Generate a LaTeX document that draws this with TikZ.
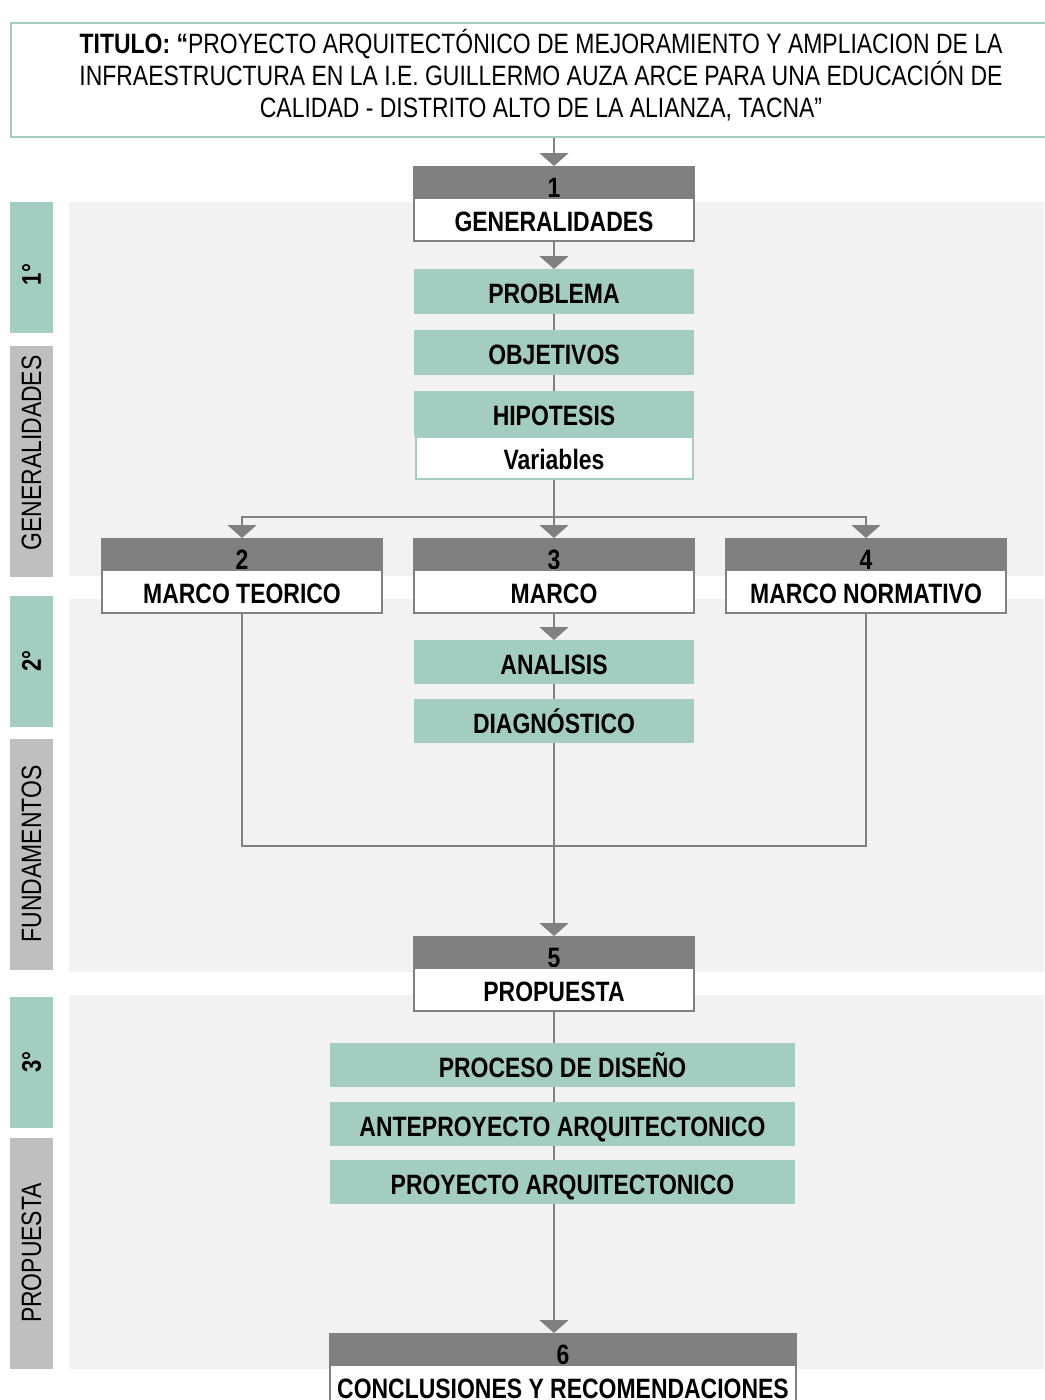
\documentclass[tikz,border=0pt]{standalone}
\usepackage{fontspec}
\setmainfont{Liberation Sans}[FakeStretch=0.82]
\usetikzlibrary{arrows.meta}
\definecolor{mintgreen}{RGB}{164,205,193}
\definecolor{hdgray}{RGB}{128,128,128}
\definecolor{sidegray}{RGB}{191,191,191}
\definecolor{panelgray}{RGB}{242,242,242}

\begin{document}
\begin{tikzpicture}[x=1pt,y=-1pt,line cap=butt,line join=miter,
  ln/.style={hdgray,line width=2pt},
  arr/.style={ln,-{Triangle[width=29pt,length=13pt]}},
  hdr/.style={fill=hdgray,draw=hdgray,line width=2pt,inner sep=0pt,minimum width=280,minimum height=31,anchor=north,text height=29pt,text depth=0pt,font=\bfseries\fontsize{28}{30}\selectfont},
  bodybox/.style={fill=white,draw=hdgray,line width=2pt,inner sep=0pt,minimum width=280,minimum height=43,anchor=north,text height=23pt,text depth=0pt,font=\bfseries\fontsize{28}{30}\selectfont},
  stepgreen/.style={fill=mintgreen,inner sep=0pt,minimum width=280,minimum height=45,anchor=north,text height=24pt,text depth=0pt,font=\bfseries\fontsize{28}{30}\selectfont},
  sidenum/.style={fill=mintgreen,rotate=90,inner sep=0pt,minimum width=131,minimum height=43,font=\bfseries\fontsize{27}{28}\selectfont},
  sidename/.style={fill=sidegray,rotate=90,inner sep=0pt,minimum width=231,minimum height=43,font=\fontsize{28}{30}\selectfont}]
\useasboundingbox (0,0) rectangle (1044,1400);
% panels
\fill[panelgray] (69,202) rectangle (1044,576);
\fill[panelgray] (69,599) rectangle (1044,972);
\fill[panelgray] (69,995) rectangle (1044,1369);
% side labels
\node[sidenum] (s1) at (31.5,267.5) {1°\hspace*{14pt}};
\node[sidename] (n1) at (31.5,461) {\hspace*{16pt}GENERALIDADES};
\node[sidenum] (s2) at (31.5,661) {2°};
\node[sidename] (n2) at (31.5,854) {FUNDAMENTOS};
\node[sidenum] (s3) at (31.5,1062) {3°};
\node[sidename] (n3) at (31.5,1253) {PROPUESTA};
% title
\node[draw=mintgreen,line width=2pt,minimum width=1060,minimum height=114,anchor=north west,align=center,inner sep=0pt,
  text depth=14pt,font=\fontsize{28}{32}\selectfont] (title) at (10,22)
  {\textbf{TITULO: “}PROYECTO ARQUITECTÓNICO DE MEJORAMIENTO Y AMPLIACION DE LA\\
   INFRAESTRUCTURA EN LA I.E. GUILLERMO AUZA ARCE PARA UNA EDUCACIÓN DE\\
   CALIDAD - DISTRITO ALTO DE LA ALIANZA, TACNA”};
% 1
\node[hdr] (hd1) at (554,166) {1};
\node[bodybox] (bx1) at (554,197) {GENERALIDADES};
\node[stepgreen] (pb) at (554,269) {PROBLEMA};
\node[stepgreen] (ob) at (554,330) {OBJETIVOS};
\node[stepgreen] (hp) at (554,391) {HIPOTESIS};
\node[bodybox,draw=mintgreen,minimum width=277,minimum height=42] (vr) at (554,436) {Variables};
% 2 3 4
\node[hdr] (hd2) at (242,538) {2};
\node[bodybox] (bx2) at (242,569) {MARCO TEORICO};
\node[hdr] (hd3) at (554,538) {3};
\node[bodybox] (bx3) at (554,569) {MARCO};
\node[hdr] (hd4) at (866,538) {4};
\node[bodybox] (bx4) at (866,569) {MARCO NORMATIVO};
\node[stepgreen,minimum height=44] (an) at (554,640) {ANALISIS};
\node[stepgreen,minimum height=44] (dg) at (554,699) {DIAGNÓSTICO};
% 5
\node[hdr] (hd5) at (554,936) {5};
\node[bodybox] (bx5) at (554,967) {PROPUESTA};
\node[stepgreen,minimum width=465,minimum height=44] (pd) at (562.5,1043) {PROCESO DE DISEÑO};
\node[stepgreen,minimum width=465,minimum height=44] (ap) at (562.5,1102) {ANTEPROYECTO ARQUITECTONICO};
\node[stepgreen,minimum width=465,minimum height=44] (pa) at (562.5,1160) {PROYECTO ARQUITECTONICO};
% 6
\node[hdr,minimum width=466] (hd6) at (563,1333) {6};
\node[bodybox,minimum width=466] (bx6) at (563,1364) {CONCLUSIONES Y RECOMENDACIONES};
% connectors
\coordinate (spl) at (554,517);
\coordinate (jn) at (554,846);
\draw[arr] (title.south -| hd1.north) -- (hd1.north);
\draw[arr] (bx1.south) -- (pb.north);
\draw[ln] (pb.south) -- (ob.north);
\draw[ln] (ob.south) -- (hp.north);
\draw[ln] (vr.south) -- (spl);
\draw[arr] (spl) -| (hd2.north);
\draw[arr] (spl) -- (hd3.north);
\draw[arr] (spl) -| (hd4.north);
\draw[arr] (bx3.south) -- (an.north);
\draw[ln] (an.south) -- (dg.north);
\draw[ln] (bx2.south) |- (jn) -| (bx4.south);
\draw[arr] (dg.south) -- (hd5.north);
\draw[ln] (bx5.south) -- (bx5.south |- pd.north);
\draw[ln] (bx5.south |- pd.south) -- (bx5.south |- ap.north);
\draw[ln] (bx5.south |- ap.south) -- (bx5.south |- pa.north);
\draw[arr] (bx5.south |- pa.south) -- (bx5.south |- hd6.north);
\end{tikzpicture}
\end{document}
